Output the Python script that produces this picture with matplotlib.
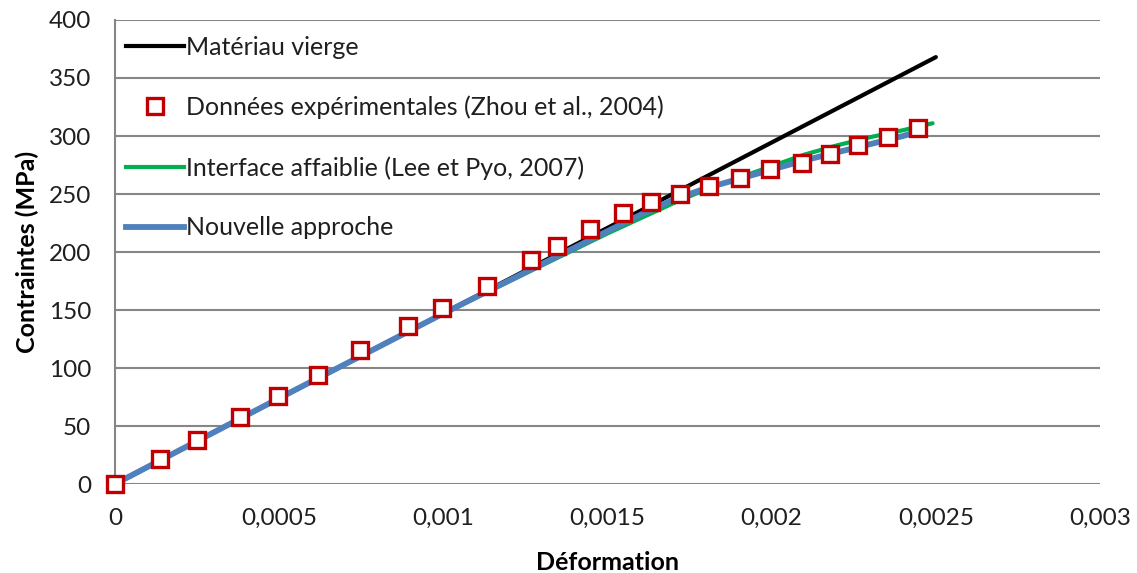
import numpy as np
import matplotlib
matplotlib.use('Agg')
import matplotlib.pyplot as plt
from matplotlib.lines import Line2D

plt.rcParams['font.family'] = ['Lato', 'DejaVu Sans']

# Matériau vierge (droite)
vierge_x = [0.0, 0.0025]
vierge_y = [0.0, 368.0]

# Données expérimentales (Zhou et al., 2004)
exp_x = [0.0, 0.000137, 0.00025, 0.000381, 0.000497, 0.000619, 0.000747, 0.000893,
         0.000997, 0.001134, 0.001268, 0.001345, 0.001448, 0.001546, 0.001631,
         0.00172, 0.001808, 0.001905, 0.001994, 0.002091, 0.002177, 0.002262,
         0.002354, 0.002445]
exp_y = [0.0, 21.6, 37.9, 57.8, 75.9, 94.0, 115.5, 136.2, 151.7, 170.7, 193.1, 205.2,
         219.8, 233.6, 243.1, 250.0, 256.9, 263.8, 271.6, 276.7, 284.5, 292.2, 299.1,
         306.9]

# Interface affaiblie (Lee et Pyo, 2007)
lee_x = [0.0, 0.0005, 0.001, 0.0015, 0.0016, 0.0017, 0.0018, 0.0019, 0.002, 0.0021,
         0.0022, 0.0023, 0.0024, 0.00249]
lee_y = [0.0, 74.0, 147.0, 216.0, 229.0, 242.0, 254.0, 264.0, 274.0, 284.0,
         292.0, 299.0, 305.0, 311.0]

# Nouvelle approche
new_x = [0.0, 0.0005, 0.001, 0.0015, 0.0016, 0.0017, 0.0018, 0.0019, 0.002, 0.0021,
         0.0022, 0.0023, 0.0024, 0.00246]
new_y = [0.0, 74.0, 147.0, 218.0, 232.0, 245.0, 255.0, 263.0, 271.0, 279.0,
         286.0, 293.0, 300.0, 305.0]

xticks = [0, 0.0005, 0.001, 0.0015, 0.002, 0.0025, 0.003]
xtick_labels = ['0', '0,0005', '0,001', '0,0015', '0,002', '0,0025', '0,003']
yticks = [0, 50, 100, 150, 200, 250, 300, 350, 400]

labels = ['Matériau vierge', 'Données expérimentales (Zhou et al., 2004)',
          'Interface affaiblie (Lee et Pyo, 2007)', 'Nouvelle approche']

red = '#C00000'
green = '#00B050'
blue = '#4F81BD'
grey = '#868686'
txt = '#1f1f1f'

fig = plt.figure(figsize=(11.37, 5.73), dpi=100)
ax = fig.add_axes([0.1011, 0.1553, 0.8664, 0.8098])

ax.plot(vierge_x, vierge_y, color='black', lw=3, solid_capstyle='round', zorder=3)
ax.plot(lee_x, lee_y, color=green, lw=3, solid_capstyle='round', zorder=4)
ax.plot(new_x, new_y, color=blue, lw=4.2, solid_capstyle='round', zorder=5)
ax.plot(exp_x, exp_y, ls='none', marker='s', ms=11, mfc='white', mec=red, mew=2.4,
        zorder=6, clip_on=False)

ax.set_xlim(0, 0.003)
ax.set_ylim(0, 400)
ax.set_xticks(xticks)
ax.set_xticklabels(xtick_labels)
ax.set_yticks(yticks)
ax.tick_params(length=0, labelsize=17.5, colors=txt)
ax.tick_params(axis='y', pad=17)
ax.tick_params(axis='x', pad=17)
ax.yaxis.grid(True, color=grey, lw=1.5)
ax.set_axisbelow(True)
for s in ['top', 'right', 'bottom']:
    ax.spines[s].set_visible(False)
ax.spines['left'].set_color(grey)
ax.spines['left'].set_linewidth(1.5)

ax.set_xlabel('Déformation', fontsize=18, fontweight='bold', color='black', labelpad=16)
ax.set_ylabel('Contraintes (MPa)', fontsize=18, fontweight='bold', color='black', labelpad=7)

handles = [Line2D([], [], color='black', lw=3),
           Line2D([], [], ls='none', marker='s', ms=11, mfc='white', mec=red, mew=2.4),
           Line2D([], [], color=green, lw=3),
           Line2D([], [], color=blue, lw=4.2)]
ax.legend(handles, labels, loc='upper left', bbox_to_anchor=(0.0, 0.99), frameon=False,
          fontsize=18, handlelength=2.3, handletextpad=0.08, labelspacing=1.47,
          borderaxespad=0.05, labelcolor=txt)

fig.savefig('out.png', dpi=100)
